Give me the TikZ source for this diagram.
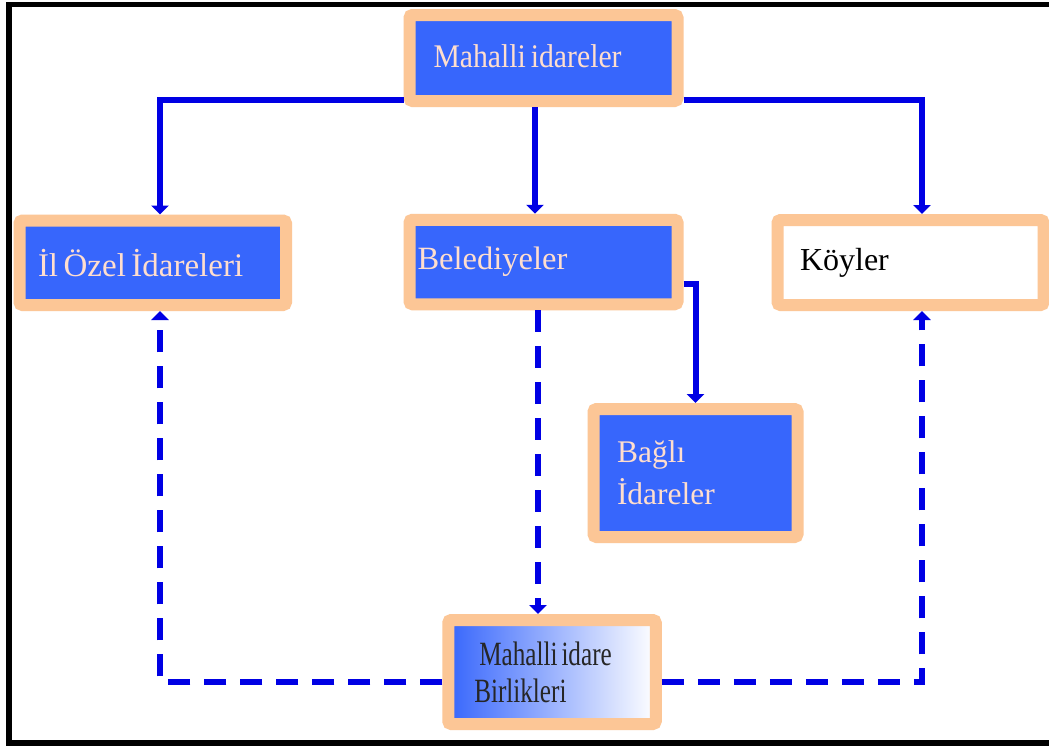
\documentclass[tikz,border=0pt]{standalone}
\usepackage{fontspec}
\setmainfont{Liberation Serif}
\newfontfamily\narrowserif[FakeStretch=0.74]{Liberation Serif}
\newfontfamily\topserif[FakeStretch=0.9]{Liberation Serif}
\usetikzlibrary{arrows.meta,backgrounds}
\definecolor{boxblue}{RGB}{55,102,252}
\definecolor{peach}{RGB}{252,198,150}
\definecolor{lineblue}{RGB}{0,0,228}
\definecolor{boxtext}{RGB}{255,222,206}
\definecolor{shade}{RGB}{120,110,100}
\tikzset{
  orgbox/.style={draw=peach, line width=12pt, rounded corners=3pt, fill=boxblue,
    text=boxtext, align=left, inner ysep=0pt},
  conn/.style={draw=lineblue, line width=6pt, -{Triangle[width=17pt,length=9pt]}},
  dashconn/.style={conn, dash pattern=on 22pt off 14pt},
}
\newcommand{\boxshadow}[1]{%
  \fill[shade] ([shift={(2.5pt,-2.5pt)}]#1.south west) rectangle ([shift={(2.5pt,-2.5pt)}]#1.north east);}
\begin{document}
\begin{tikzpicture}[x=1pt,y=-1pt]
\useasboundingbox (0,0) rectangle (1049,745);
\fill[white] (0,0) rectangle (1049,745);
\draw[black, line width=5.5pt] (1049,4.5) -- (9,4.5) -- (9,743) -- (1049,743);

\node[orgbox, minimum width=268pt, minimum height=86pt, inner xsep=24pt, text width=220pt,
  font=\topserif\fontsize{33}{38}\selectfont]
  (top) at (543.5,58) {\spaceskip=5pt\relax Mahalli idareler\rule[-4pt]{0pt}{1pt}};
\node[orgbox, minimum width=266.5pt, minimum height=84.5pt, inner xsep=18.5pt, text width=229.5pt,
  font=\fontsize{33}{38}\selectfont]
  (il) at (152.75,262.75) {\spaceskip=5.5pt\relax İl Özel İdareleri};
\node[orgbox, minimum width=268pt, minimum height=84.5pt, inner xsep=8pt, text width=252pt,
  font=\fontsize{32.5}{38}\selectfont]
  (bel) at (543.5,262) {Belediyeler};
\node[orgbox, fill=white, text=black, minimum width=266pt, minimum height=85pt, inner xsep=22.5pt, text width=221pt,
  font=\fontsize{32}{38}\selectfont]
  (koy) at (910.5,262.5) {Köyler};
\node[orgbox, minimum width=204pt, minimum height=128pt, inner xsep=23.5pt, text width=157pt,
  font=\fontsize{31.5}{42}\selectfont]
  (bagli) at (695.5,473) {Bağlı\\İdareler};
\node[orgbox, fill=none, left color=boxblue, right color=white, text=black!85, minimum width=207.5pt, minimum height=104pt, inner xsep=26pt, text width=155.5pt,
  font=\narrowserif\fontsize{34}{37}\selectfont]
  (bir) at (552,672) {\spaceskip=4pt\relax\hspace*{5pt}Mahalli idare\\Birlikleri};

\begin{scope}[on background layer]
  \boxshadow{top}
  \boxshadow{il}
  \boxshadow{bel}
  \boxshadow{koy}
  \boxshadow{bagli}
  \boxshadow{bir}
\end{scope}

\draw[conn] ([yshift=-42pt]top.west) -| ([xshift=7.25pt]il.north);
\draw[conn] ([xshift=-8.5pt]top.south) -- ([xshift=-8.5pt]bel.north);
\draw[conn] ([yshift=-42pt]top.east) -| ([xshift=11.5pt]koy.north);
\draw[conn] ([yshift=-22pt]bel.east) -| (bagli.north);
\draw[dashconn] ([xshift=-5.5pt]bel.south) -- ([xshift=-5.5pt]bel.south |- bir.north);
\draw[dashconn] ([yshift=-10pt]bir.west) -| ([xshift=7.25pt]il.south);
\draw[dashconn] ([yshift=-10pt]bir.east) -| ([xshift=11.5pt]koy.south);
\end{tikzpicture}
\end{document}
